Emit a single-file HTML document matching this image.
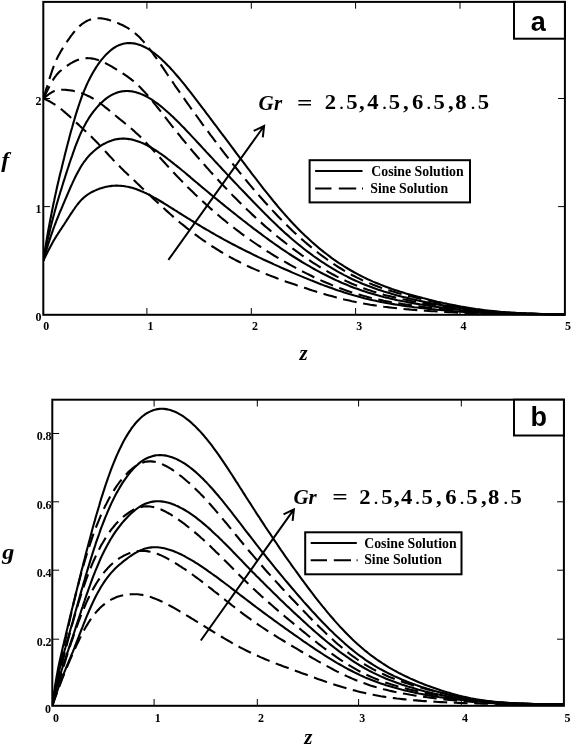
<!DOCTYPE html>
<html lang="en"><head><meta charset="utf-8"><title>Figure: f and g versus z for Gr = 2.5, 4.5, 6.5, 8.5</title>
<style>
html,body{margin:0;padding:0;background:#fff;}
body{width:572px;height:745px;overflow:hidden;}
svg{display:block;}
.fr{fill:none;stroke:#000;stroke-width:2;}
.tk{stroke:#000;stroke-width:1;fill:none;}
.c{fill:none;stroke:#000;stroke-width:2.1;stroke-linejoin:round;}
.d{fill:none;stroke:#000;stroke-width:2.1;stroke-dasharray:13.8 6.6;stroke-linejoin:round;}
.tl{font-family:"Liberation Serif",serif;font-weight:bold;font-size:13px;fill:#000;}
.lg{font-family:"Liberation Serif",serif;font-weight:bold;font-size:13.8px;fill:#000;}
.ax{font-family:"Liberation Serif",serif;font-weight:bold;font-style:italic;font-size:21px;fill:#000;}
.pn{font-family:"Liberation Sans",sans-serif;font-weight:bold;font-size:27px;fill:#000;}
.gr{font-family:"Liberation Serif",serif;font-weight:bold;font-size:21px;fill:#000;}
.gi{font-family:"Liberation Serif",serif;font-weight:bold;font-style:italic;font-size:21px;fill:#000;}
.dt{font-size:15px;}
.ar{fill:none;stroke:#000;stroke-width:2;stroke-linecap:butt;stroke-linejoin:miter;}
</style></head><body>
<svg width="572" height="745" viewBox="0 0 572 745">
<rect x="0" y="0" width="572" height="745" style="fill:#fff"/>
<defs><clipPath id="cp1"><rect x="43.3" y="1.8" width="521.6" height="313.9"/></clipPath><clipPath id="cp2"><rect x="52.3" y="399.6" width="511.6" height="307"/></clipPath></defs>
<g id="plot-a">
<g clip-path="url(#cp1)">
<path class="c" d="M43.3,260.7 L44.0,259.2 L44.7,257.7 L45.5,256.2 L46.2,254.7 L47.0,253.2 L47.7,251.7 L48.5,250.2 L49.3,248.7 L50.1,247.2 L50.9,245.7 L51.7,244.2 L52.5,242.7 L53.3,241.3 L54.2,239.8 L55.0,238.4 L55.9,237.0 L56.7,235.6 L57.6,234.3 L58.5,232.9 L59.4,231.5 L60.3,230.1 L61.3,228.7 L62.2,227.3 L63.1,225.9 L64.1,224.5 L65.0,223.0 L66.0,221.5 L67.0,219.9 L68.0,218.4 L69.0,216.8 L70.0,215.2 L71.0,213.6 L72.1,212.1 L73.1,210.5 L74.2,209.0 L75.2,207.5 L76.3,206.0 L77.4,204.5 L78.5,203.2 L79.6,201.9 L80.7,200.6 L81.8,199.4 L83.0,198.4 L84.1,197.3 L85.3,196.4 L86.4,195.5 L87.6,194.6 L88.8,193.9 L90.0,193.1 L91.2,192.4 L92.4,191.8 L93.6,191.2 L94.9,190.6 L96.1,190.1 L97.4,189.6 L98.6,189.1 L99.9,188.6 L101.2,188.2 L102.5,187.8 L103.8,187.4 L105.1,187.1 L106.4,186.8 L107.8,186.5 L109.1,186.3 L110.5,186.1 L111.9,185.9 L113.2,185.8 L114.6,185.7 L116.0,185.6 L117.4,185.6 L118.8,185.7 L120.3,185.7 L121.7,185.9 L123.2,186.0 L124.6,186.2 L126.1,186.5 L127.6,186.7 L129.1,187.1 L130.6,187.4 L132.1,187.8 L133.6,188.3 L135.1,188.8 L136.6,189.3 L138.2,189.9 L139.8,190.5 L141.3,191.2 L142.9,191.8 L144.5,192.6 L146.1,193.3 L147.7,194.1 L149.3,194.9 L151.0,195.8 L152.6,196.7 L154.2,197.6 L155.9,198.5 L157.6,199.5 L159.3,200.5 L161.0,201.5 L162.7,202.5 L164.4,203.6 L166.1,204.6 L167.8,205.7 L169.6,206.8 L171.3,207.9 L173.1,209.0 L174.8,210.1 L176.6,211.2 L178.4,212.4 L180.2,213.5 L182.0,214.6 L183.9,215.8 L185.7,216.9 L187.5,218.1 L189.4,219.2 L191.2,220.4 L193.1,221.5 L195.0,222.7 L196.9,223.9 L198.8,225.0 L200.7,226.2 L202.6,227.3 L204.6,228.5 L206.5,229.6 L208.5,230.7 L210.4,231.9 L212.4,233.0 L214.4,234.2 L216.4,235.3 L218.4,236.4 L220.4,237.5 L222.4,238.6 L224.5,239.8 L226.5,240.9 L228.6,242.0 L230.6,243.1 L232.7,244.2 L234.8,245.3 L236.9,246.4 L239.0,247.5 L241.1,248.5 L243.2,249.6 L245.4,250.7 L247.5,251.8 L249.7,252.8 L251.8,253.9 L254.0,255.0 L256.2,256.0 L258.4,257.1 L260.6,258.1 L262.8,259.2 L265.0,260.2 L267.3,261.3 L269.5,262.3 L271.8,263.3 L274.0,264.4 L276.3,265.4 L278.6,266.4 L280.9,267.5 L283.2,268.5 L285.5,269.5 L287.9,270.5 L290.2,271.5 L292.5,272.6 L294.9,273.6 L297.3,274.6 L299.7,275.6 L302.0,276.6 L304.4,277.6 L306.9,278.6 L309.3,279.6 L311.7,280.6 L314.1,281.5 L316.6,282.5 L319.0,283.5 L321.5,284.4 L324.0,285.4 L326.5,286.3 L329.0,287.2 L331.5,288.1 L334.0,289.0 L336.5,289.9 L339.1,290.8 L341.6,291.6 L344.2,292.5 L346.8,293.3 L349.3,294.1 L351.9,294.8 L354.5,295.6 L357.2,296.3 L359.8,297.0 L362.4,297.7 L365.0,298.4 L367.7,299.0 L370.4,299.7 L373.0,300.3 L375.7,300.8 L378.4,301.4 L381.1,301.9 L383.8,302.5 L386.5,303.0 L389.3,303.5 L392.0,303.9 L394.8,304.4 L397.5,304.8 L400.3,305.3 L403.1,305.7 L405.9,306.1 L408.7,306.5 L411.5,306.8 L414.3,307.2 L417.2,307.5 L420.0,307.9 L422.8,308.2 L425.7,308.5 L428.6,308.9 L431.5,309.2 L434.4,309.4 L437.3,309.7 L440.2,310.0 L443.1,310.3 L446.0,310.5 L449.0,310.8 L451.9,311.0 L454.9,311.2 L457.9,311.5 L460.9,311.7 L463.9,311.9 L466.9,312.1 L469.9,312.2 L472.9,312.4 L475.9,312.6 L479.0,312.7 L482.0,312.9 L485.1,313.0 L488.2,313.2 L491.3,313.3 L494.4,313.4 L497.5,313.5 L500.6,313.6 L503.7,313.7 L506.9,313.8 L510.0,313.8 L513.2,313.9 L516.3,314.0 L519.5,314.0 L522.7,314.1 L525.9,314.1 L529.1,314.2 L532.3,314.2 L535.5,314.3 L538.8,314.3 L542.0,314.3 L545.3,314.4 L548.6,314.4 L551.8,314.4 L555.1,314.4 L558.4,314.5 L561.7,314.5 L565.0,314.5"/>
<path class="c" d="M43.3,260.7 L44.0,258.2 L44.7,255.7 L45.5,253.1 L46.2,250.6 L47.0,248.1 L47.7,245.7 L48.5,243.2 L49.3,240.8 L50.1,238.4 L50.9,236.0 L51.7,233.7 L52.5,231.3 L53.3,229.0 L54.2,226.7 L55.0,224.5 L55.9,222.2 L56.7,220.0 L57.6,217.8 L58.5,215.6 L59.4,213.4 L60.3,211.2 L61.3,209.0 L62.2,206.8 L63.1,204.6 L64.1,202.3 L65.0,200.1 L66.0,197.8 L67.0,195.5 L68.0,193.2 L69.0,190.8 L70.0,188.5 L71.0,186.2 L72.1,183.9 L73.1,181.6 L74.2,179.4 L75.2,177.2 L76.3,175.0 L77.4,172.9 L78.5,170.9 L79.6,168.9 L80.7,167.0 L81.8,165.2 L83.0,163.5 L84.1,161.8 L85.3,160.3 L86.4,158.8 L87.6,157.4 L88.8,156.0 L90.0,154.8 L91.2,153.6 L92.4,152.4 L93.6,151.3 L94.9,150.2 L96.1,149.2 L97.4,148.2 L98.6,147.3 L99.9,146.4 L101.2,145.5 L102.5,144.7 L103.8,144.0 L105.1,143.3 L106.4,142.6 L107.8,142.0 L109.1,141.4 L110.5,140.9 L111.9,140.4 L113.2,140.0 L114.6,139.6 L116.0,139.3 L117.4,139.1 L118.8,138.9 L120.3,138.7 L121.7,138.6 L123.2,138.6 L124.6,138.6 L126.1,138.7 L127.6,138.9 L129.1,139.1 L130.6,139.3 L132.1,139.6 L133.6,140.0 L135.1,140.4 L136.6,140.9 L138.2,141.4 L139.8,142.0 L141.3,142.6 L142.9,143.3 L144.5,144.0 L146.1,144.8 L147.7,145.7 L149.3,146.5 L151.0,147.5 L152.6,148.4 L154.2,149.5 L155.9,150.5 L157.6,151.6 L159.3,152.8 L161.0,153.9 L162.7,155.2 L164.4,156.4 L166.1,157.7 L167.8,159.0 L169.6,160.3 L171.3,161.7 L173.1,163.1 L174.8,164.5 L176.6,165.9 L178.4,167.3 L180.2,168.8 L182.0,170.3 L183.9,171.8 L185.7,173.3 L187.5,174.9 L189.4,176.4 L191.2,178.0 L193.1,179.6 L195.0,181.2 L196.9,182.8 L198.8,184.4 L200.7,186.0 L202.6,187.6 L204.6,189.2 L206.5,190.8 L208.5,192.5 L210.4,194.1 L212.4,195.7 L214.4,197.4 L216.4,199.0 L218.4,200.6 L220.4,202.3 L222.4,203.9 L224.5,205.6 L226.5,207.2 L228.6,208.9 L230.6,210.5 L232.7,212.2 L234.8,213.8 L236.9,215.5 L239.0,217.2 L241.1,218.8 L243.2,220.5 L245.4,222.1 L247.5,223.8 L249.7,225.5 L251.8,227.1 L254.0,228.8 L256.2,230.4 L258.4,232.1 L260.6,233.7 L262.8,235.4 L265.0,237.0 L267.3,238.7 L269.5,240.3 L271.8,241.9 L274.0,243.5 L276.3,245.1 L278.6,246.7 L280.9,248.3 L283.2,249.9 L285.5,251.4 L287.9,253.0 L290.2,254.5 L292.5,256.0 L294.9,257.5 L297.3,259.0 L299.7,260.5 L302.0,262.0 L304.4,263.4 L306.9,264.8 L309.3,266.2 L311.7,267.6 L314.1,269.0 L316.6,270.4 L319.0,271.7 L321.5,273.0 L324.0,274.3 L326.5,275.5 L329.0,276.8 L331.5,278.0 L334.0,279.2 L336.5,280.4 L339.1,281.5 L341.6,282.7 L344.2,283.8 L346.8,284.8 L349.3,285.9 L351.9,286.9 L354.5,287.9 L357.2,288.8 L359.8,289.8 L362.4,290.7 L365.0,291.6 L367.7,292.4 L370.4,293.2 L373.0,294.0 L375.7,294.8 L378.4,295.5 L381.1,296.3 L383.8,297.0 L386.5,297.6 L389.3,298.3 L392.0,298.9 L394.8,299.6 L397.5,300.2 L400.3,300.7 L403.1,301.3 L405.9,301.8 L408.7,302.4 L411.5,302.9 L414.3,303.4 L417.2,303.9 L420.0,304.4 L422.8,304.8 L425.7,305.3 L428.6,305.8 L431.5,306.2 L434.4,306.6 L437.3,307.0 L440.2,307.4 L443.1,307.8 L446.0,308.2 L449.0,308.6 L451.9,309.0 L454.9,309.3 L457.9,309.6 L460.9,310.0 L463.9,310.3 L466.9,310.6 L469.9,310.9 L472.9,311.1 L475.9,311.4 L479.0,311.6 L482.0,311.9 L485.1,312.1 L488.2,312.3 L491.3,312.5 L494.4,312.7 L497.5,312.8 L500.6,313.0 L503.7,313.1 L506.9,313.3 L510.0,313.4 L513.2,313.5 L516.3,313.6 L519.5,313.7 L522.7,313.8 L525.9,313.9 L529.1,314.0 L532.3,314.0 L535.5,314.1 L538.8,314.2 L542.0,314.2 L545.3,314.3 L548.6,314.3 L551.8,314.4 L555.1,314.4 L558.4,314.5 L561.7,314.5 L565.0,314.6"/>
<path class="c" d="M43.3,260.7 L44.0,257.1 L44.7,253.6 L45.5,250.0 L46.2,246.5 L47.0,243.1 L47.7,239.6 L48.5,236.3 L49.3,232.9 L50.1,229.6 L50.9,226.3 L51.7,223.1 L52.5,219.9 L53.3,216.7 L54.2,213.6 L55.0,210.5 L55.9,207.4 L56.7,204.3 L57.6,201.3 L58.5,198.3 L59.4,195.3 L60.3,192.2 L61.3,189.2 L62.2,186.2 L63.1,183.2 L64.1,180.2 L65.0,177.2 L66.0,174.1 L67.0,171.0 L68.0,168.0 L69.0,164.9 L70.0,161.8 L71.0,158.8 L72.1,155.8 L73.1,152.8 L74.2,149.8 L75.2,146.9 L76.3,144.0 L77.4,141.3 L78.5,138.6 L79.6,135.9 L80.7,133.4 L81.8,131.0 L83.0,128.6 L84.1,126.4 L85.3,124.2 L86.4,122.1 L87.6,120.2 L88.8,118.2 L90.0,116.4 L91.2,114.7 L92.4,113.0 L93.6,111.4 L94.9,109.8 L96.1,108.3 L97.4,106.9 L98.6,105.5 L99.9,104.2 L101.2,102.9 L102.5,101.7 L103.8,100.5 L105.1,99.4 L106.4,98.4 L107.8,97.4 L109.1,96.5 L110.5,95.7 L111.9,94.9 L113.2,94.2 L114.6,93.6 L116.0,93.0 L117.4,92.5 L118.8,92.1 L120.3,91.7 L121.7,91.4 L123.2,91.2 L124.6,91.1 L126.1,91.0 L127.6,91.0 L129.1,91.1 L130.6,91.2 L132.1,91.4 L133.6,91.7 L135.1,92.0 L136.6,92.4 L138.2,92.9 L139.8,93.5 L141.3,94.1 L142.9,94.8 L144.5,95.5 L146.1,96.3 L147.7,97.2 L149.3,98.1 L151.0,99.1 L152.6,100.2 L154.2,101.3 L155.9,102.5 L157.6,103.7 L159.3,105.0 L161.0,106.4 L162.7,107.8 L164.4,109.2 L166.1,110.7 L167.8,112.2 L169.6,113.8 L171.3,115.4 L173.1,117.1 L174.8,118.8 L176.6,120.5 L178.4,122.3 L180.2,124.1 L182.0,126.0 L183.9,127.8 L185.7,129.8 L187.5,131.7 L189.4,133.6 L191.2,135.6 L193.1,137.6 L195.0,139.6 L196.9,141.7 L198.8,143.7 L200.7,145.8 L202.6,147.9 L204.6,150.0 L206.5,152.1 L208.5,154.2 L210.4,156.3 L212.4,158.4 L214.4,160.6 L216.4,162.7 L218.4,164.9 L220.4,167.0 L222.4,169.2 L224.5,171.4 L226.5,173.6 L228.6,175.8 L230.6,178.0 L232.7,180.2 L234.8,182.4 L236.9,184.6 L239.0,186.9 L241.1,189.1 L243.2,191.3 L245.4,193.6 L247.5,195.8 L249.7,198.1 L251.8,200.3 L254.0,202.6 L256.2,204.8 L258.4,207.1 L260.6,209.3 L262.8,211.6 L265.0,213.8 L267.3,216.0 L269.5,218.2 L271.8,220.5 L274.0,222.6 L276.3,224.8 L278.6,227.0 L280.9,229.1 L283.2,231.2 L285.5,233.4 L287.9,235.4 L290.2,237.5 L292.5,239.5 L294.9,241.5 L297.3,243.5 L299.7,245.4 L302.0,247.3 L304.4,249.2 L306.9,251.1 L309.3,252.9 L311.7,254.7 L314.1,256.5 L316.6,258.2 L319.0,259.9 L321.5,261.6 L324.0,263.2 L326.5,264.8 L329.0,266.4 L331.5,267.9 L334.0,269.4 L336.5,270.9 L339.1,272.3 L341.6,273.7 L344.2,275.1 L346.8,276.4 L349.3,277.7 L351.9,279.0 L354.5,280.2 L357.2,281.4 L359.8,282.5 L362.4,283.7 L365.0,284.7 L367.7,285.8 L370.4,286.8 L373.0,287.8 L375.7,288.8 L378.4,289.7 L381.1,290.6 L383.8,291.5 L386.5,292.3 L389.3,293.1 L392.0,293.9 L394.8,294.7 L397.5,295.5 L400.3,296.2 L403.1,296.9 L405.9,297.6 L408.7,298.3 L411.5,299.0 L414.3,299.6 L417.2,300.2 L420.0,300.9 L422.8,301.5 L425.7,302.1 L428.6,302.7 L431.5,303.2 L434.4,303.8 L437.3,304.4 L440.2,304.9 L443.1,305.4 L446.0,305.9 L449.0,306.4 L451.9,306.9 L454.9,307.4 L457.9,307.8 L460.9,308.3 L463.9,308.7 L466.9,309.1 L469.9,309.5 L472.9,309.8 L475.9,310.2 L479.0,310.5 L482.0,310.8 L485.1,311.1 L488.2,311.4 L491.3,311.7 L494.4,311.9 L497.5,312.2 L500.6,312.4 L503.7,312.6 L506.9,312.8 L510.0,312.9 L513.2,313.1 L516.3,313.2 L519.5,313.4 L522.7,313.5 L525.9,313.6 L529.1,313.7 L532.3,313.8 L535.5,313.9 L538.8,314.0 L542.0,314.1 L545.3,314.2 L548.6,314.3 L551.8,314.4 L555.1,314.4 L558.4,314.5 L561.7,314.6 L565.0,314.7"/>
<path class="c" d="M43.3,260.7 L44.0,256.1 L44.7,251.5 L45.5,246.9 L46.2,242.4 L47.0,238.0 L47.7,233.6 L48.5,229.3 L49.3,225.0 L50.1,220.8 L50.9,216.7 L51.7,212.5 L52.5,208.5 L53.3,204.5 L54.2,200.5 L55.0,196.5 L55.9,192.6 L56.7,188.7 L57.6,184.8 L58.5,181.0 L59.4,177.1 L60.3,173.3 L61.3,169.5 L62.2,165.7 L63.1,161.9 L64.1,158.1 L65.0,154.3 L66.0,150.4 L67.0,146.6 L68.0,142.8 L69.0,138.9 L70.0,135.1 L71.0,131.3 L72.1,127.6 L73.1,123.9 L74.2,120.2 L75.2,116.6 L76.3,113.1 L77.4,109.6 L78.5,106.2 L79.6,103.0 L80.7,99.8 L81.8,96.7 L83.0,93.7 L84.1,90.9 L85.3,88.1 L86.4,85.5 L87.6,82.9 L88.8,80.4 L90.0,78.1 L91.2,75.8 L92.4,73.6 L93.6,71.5 L94.9,69.4 L96.1,67.4 L97.4,65.5 L98.6,63.7 L99.9,61.9 L101.2,60.2 L102.5,58.6 L103.8,57.1 L105.1,55.6 L106.4,54.2 L107.8,52.9 L109.1,51.7 L110.5,50.5 L111.9,49.4 L113.2,48.4 L114.6,47.5 L116.0,46.7 L117.4,45.9 L118.8,45.3 L120.3,44.7 L121.7,44.2 L123.2,43.8 L124.6,43.5 L126.1,43.3 L127.6,43.1 L129.1,43.0 L130.6,43.1 L132.1,43.2 L133.6,43.4 L135.1,43.6 L136.6,44.0 L138.2,44.4 L139.8,44.9 L141.3,45.5 L142.9,46.2 L144.5,47.0 L146.1,47.8 L147.7,48.7 L149.3,49.7 L151.0,50.8 L152.6,52.0 L154.2,53.2 L155.9,54.5 L157.6,55.8 L159.3,57.3 L161.0,58.8 L162.7,60.4 L164.4,62.0 L166.1,63.7 L167.8,65.5 L169.6,67.3 L171.3,69.2 L173.1,71.1 L174.8,73.1 L176.6,75.2 L178.4,77.3 L180.2,79.4 L182.0,81.6 L183.9,83.9 L185.7,86.2 L187.5,88.5 L189.4,90.8 L191.2,93.2 L193.1,95.7 L195.0,98.1 L196.9,100.6 L198.8,103.1 L200.7,105.6 L202.6,108.2 L204.6,110.7 L206.5,113.3 L208.5,115.9 L210.4,118.5 L212.4,121.1 L214.4,123.8 L216.4,126.4 L218.4,129.1 L220.4,131.8 L222.4,134.5 L224.5,137.2 L226.5,139.9 L228.6,142.7 L230.6,145.4 L232.7,148.2 L234.8,151.0 L236.9,153.8 L239.0,156.6 L241.1,159.4 L243.2,162.2 L245.4,165.0 L247.5,167.9 L249.7,170.7 L251.8,173.6 L254.0,176.4 L256.2,179.2 L258.4,182.1 L260.6,184.9 L262.8,187.8 L265.0,190.6 L267.3,193.4 L269.5,196.2 L271.8,199.0 L274.0,201.8 L276.3,204.5 L278.6,207.3 L280.9,210.0 L283.2,212.6 L285.5,215.3 L287.9,217.9 L290.2,220.5 L292.5,223.0 L294.9,225.5 L297.3,227.9 L299.7,230.4 L302.0,232.7 L304.4,235.1 L306.9,237.3 L309.3,239.6 L311.7,241.8 L314.1,243.9 L316.6,246.0 L319.0,248.1 L321.5,250.1 L324.0,252.1 L326.5,254.0 L329.0,255.9 L331.5,257.8 L334.0,259.6 L336.5,261.3 L339.1,263.1 L341.6,264.7 L344.2,266.4 L346.8,268.0 L349.3,269.5 L351.9,271.0 L354.5,272.5 L357.2,273.9 L359.8,275.3 L362.4,276.6 L365.0,277.9 L367.7,279.2 L370.4,280.4 L373.0,281.6 L375.7,282.7 L378.4,283.8 L381.1,284.9 L383.8,286.0 L386.5,287.0 L389.3,288.0 L392.0,289.0 L394.8,289.9 L397.5,290.8 L400.3,291.7 L403.1,292.5 L405.9,293.4 L408.7,294.2 L411.5,295.0 L414.3,295.8 L417.2,296.6 L420.0,297.3 L422.8,298.1 L425.7,298.8 L428.6,299.6 L431.5,300.3 L434.4,301.0 L437.3,301.7 L440.2,302.3 L443.1,303.0 L446.0,303.6 L449.0,304.2 L451.9,304.8 L454.9,305.4 L457.9,306.0 L460.9,306.6 L463.9,307.1 L466.9,307.6 L469.9,308.1 L472.9,308.5 L475.9,309.0 L479.0,309.4 L482.0,309.8 L485.1,310.2 L488.2,310.6 L491.3,310.9 L494.4,311.2 L497.5,311.5 L500.6,311.8 L503.7,312.0 L506.9,312.2 L510.0,312.5 L513.2,312.7 L516.3,312.9 L519.5,313.0 L522.7,313.2 L525.9,313.4 L529.1,313.5 L532.3,313.6 L535.5,313.8 L538.8,313.9 L542.0,314.0 L545.3,314.1 L548.6,314.2 L551.8,314.3 L555.1,314.4 L558.4,314.5 L561.7,314.7 L565.0,314.8"/>
<path class="d" d="M43.3,98.5 L44.0,98.8 L44.7,99.1 L45.5,99.4 L46.2,99.7 L47.0,100.1 L47.7,100.5 L48.5,100.8 L49.3,101.2 L50.1,101.7 L50.9,102.1 L51.7,102.6 L52.5,103.1 L53.3,103.6 L54.2,104.1 L55.0,104.7 L55.9,105.2 L56.7,105.9 L57.6,106.5 L58.5,107.2 L59.4,107.8 L60.3,108.5 L61.3,109.3 L62.2,110.0 L63.1,110.8 L64.1,111.6 L65.0,112.4 L66.0,113.3 L67.0,114.1 L68.0,115.0 L69.0,115.9 L70.0,116.8 L71.0,117.7 L72.1,118.7 L73.1,119.6 L74.2,120.6 L75.2,121.6 L76.3,122.6 L77.4,123.6 L78.5,124.6 L79.6,125.7 L80.7,126.7 L81.8,127.8 L83.0,128.8 L84.1,129.9 L85.3,131.0 L86.4,132.1 L87.6,133.2 L88.8,134.3 L90.0,135.4 L91.2,136.6 L92.4,137.8 L93.6,139.0 L94.9,140.2 L96.1,141.5 L97.4,142.8 L98.6,144.1 L99.9,145.5 L101.2,146.8 L102.5,148.2 L103.8,149.7 L105.1,151.1 L106.4,152.5 L107.8,154.0 L109.1,155.5 L110.5,156.9 L111.9,158.4 L113.2,159.9 L114.6,161.3 L116.0,162.8 L117.4,164.3 L118.8,165.7 L120.3,167.1 L121.7,168.6 L123.2,170.0 L124.6,171.4 L126.1,172.8 L127.6,174.2 L129.1,175.6 L130.6,177.0 L132.1,178.5 L133.6,179.9 L135.1,181.3 L136.6,182.8 L138.2,184.2 L139.8,185.7 L141.3,187.2 L142.9,188.7 L144.5,190.2 L146.1,191.7 L147.7,193.2 L149.3,194.8 L151.0,196.3 L152.6,197.9 L154.2,199.4 L155.9,201.0 L157.6,202.5 L159.3,204.1 L161.0,205.7 L162.7,207.2 L164.4,208.8 L166.1,210.4 L167.8,211.9 L169.6,213.5 L171.3,215.0 L173.1,216.6 L174.8,218.1 L176.6,219.6 L178.4,221.1 L180.2,222.7 L182.0,224.2 L183.9,225.6 L185.7,227.1 L187.5,228.6 L189.4,230.0 L191.2,231.5 L193.1,232.9 L195.0,234.3 L196.9,235.7 L198.8,237.1 L200.7,238.5 L202.6,239.9 L204.6,241.2 L206.5,242.6 L208.5,243.9 L210.4,245.2 L212.4,246.5 L214.4,247.7 L216.4,249.0 L218.4,250.2 L220.4,251.5 L222.4,252.7 L224.5,253.9 L226.5,255.1 L228.6,256.2 L230.6,257.4 L232.7,258.5 L234.8,259.6 L236.9,260.7 L239.0,261.8 L241.1,262.9 L243.2,263.9 L245.4,264.9 L247.5,266.0 L249.7,267.0 L251.8,268.0 L254.0,268.9 L256.2,269.9 L258.4,270.8 L260.6,271.8 L262.8,272.7 L265.0,273.6 L267.3,274.5 L269.5,275.4 L271.8,276.3 L274.0,277.1 L276.3,278.0 L278.6,278.9 L280.9,279.7 L283.2,280.5 L285.5,281.4 L287.9,282.2 L290.2,283.0 L292.5,283.8 L294.9,284.6 L297.3,285.4 L299.7,286.2 L302.0,287.0 L304.4,287.8 L306.9,288.6 L309.3,289.4 L311.7,290.2 L314.1,290.9 L316.6,291.7 L319.0,292.5 L321.5,293.2 L324.0,293.9 L326.5,294.7 L329.0,295.4 L331.5,296.1 L334.0,296.8 L336.5,297.4 L339.1,298.1 L341.6,298.7 L344.2,299.4 L346.8,300.0 L349.3,300.6 L351.9,301.2 L354.5,301.7 L357.2,302.3 L359.8,302.8 L362.4,303.3 L365.0,303.8 L367.7,304.2 L370.4,304.7 L373.0,305.1 L375.7,305.5 L378.4,305.9 L381.1,306.3 L383.8,306.7 L386.5,307.0 L389.3,307.4 L392.0,307.7 L394.8,308.0 L397.5,308.3 L400.3,308.6 L403.1,308.9 L405.9,309.2 L408.7,309.4 L411.5,309.7 L414.3,309.9 L417.2,310.1 L420.0,310.3 L422.8,310.6 L425.7,310.8 L428.6,311.0 L431.5,311.2 L434.4,311.3 L437.3,311.5 L440.2,311.7 L443.1,311.9 L446.0,312.0 L449.0,312.2 L451.9,312.3 L454.9,312.5 L457.9,312.6 L460.9,312.7 L463.9,312.8 L466.9,313.0 L469.9,313.1 L472.9,313.2 L475.9,313.3 L479.0,313.4 L482.0,313.5 L485.1,313.5 L488.2,313.6 L491.3,313.7 L494.4,313.7 L497.5,313.8 L500.6,313.9 L503.7,313.9 L506.9,314.0 L510.0,314.0 L513.2,314.1 L516.3,314.1 L519.5,314.1 L522.7,314.2 L525.9,314.2 L529.1,314.2 L532.3,314.3 L535.5,314.3 L538.8,314.3 L542.0,314.3 L545.3,314.3 L548.6,314.4 L551.8,314.4 L555.1,314.4 L558.4,314.4 L561.7,314.4 L565.0,314.4"/>
<path class="d" d="M43.3,98.5 L44.0,98.0 L44.7,97.4 L45.5,96.8 L46.2,96.2 L47.0,95.7 L47.7,95.1 L48.5,94.5 L49.3,93.9 L50.1,93.4 L50.9,92.9 L51.7,92.4 L52.5,91.9 L53.3,91.5 L54.2,91.1 L55.0,90.8 L55.9,90.5 L56.7,90.3 L57.6,90.1 L58.5,90.0 L59.4,89.8 L60.3,89.8 L61.3,89.7 L62.2,89.7 L63.1,89.7 L64.1,89.8 L65.0,89.8 L66.0,89.9 L67.0,90.0 L68.0,90.1 L69.0,90.2 L70.0,90.3 L71.0,90.5 L72.1,90.6 L73.1,90.8 L74.2,91.1 L75.2,91.3 L76.3,91.6 L77.4,91.8 L78.5,92.2 L79.6,92.5 L80.7,92.9 L81.8,93.2 L83.0,93.7 L84.1,94.1 L85.3,94.6 L86.4,95.1 L87.6,95.7 L88.8,96.2 L90.0,96.8 L91.2,97.5 L92.4,98.2 L93.6,98.9 L94.9,99.7 L96.1,100.5 L97.4,101.3 L98.6,102.2 L99.9,103.1 L101.2,104.0 L102.5,105.0 L103.8,106.0 L105.1,107.1 L106.4,108.1 L107.8,109.2 L109.1,110.3 L110.5,111.4 L111.9,112.5 L113.2,113.7 L114.6,114.8 L116.0,116.0 L117.4,117.2 L118.8,118.3 L120.3,119.5 L121.7,120.7 L123.2,121.8 L124.6,123.0 L126.1,124.2 L127.6,125.5 L129.1,126.7 L130.6,128.0 L132.1,129.3 L133.6,130.6 L135.1,132.0 L136.6,133.4 L138.2,134.8 L139.8,136.3 L141.3,137.8 L142.9,139.4 L144.5,141.0 L146.1,142.7 L147.7,144.4 L149.3,146.1 L151.0,147.8 L152.6,149.6 L154.2,151.4 L155.9,153.2 L157.6,155.0 L159.3,156.9 L161.0,158.7 L162.7,160.6 L164.4,162.5 L166.1,164.4 L167.8,166.3 L169.6,168.2 L171.3,170.1 L173.1,172.0 L174.8,173.8 L176.6,175.7 L178.4,177.6 L180.2,179.4 L182.0,181.3 L183.9,183.2 L185.7,185.0 L187.5,186.9 L189.4,188.7 L191.2,190.5 L193.1,192.3 L195.0,194.2 L196.9,196.0 L198.8,197.8 L200.7,199.6 L202.6,201.3 L204.6,203.1 L206.5,204.9 L208.5,206.6 L210.4,208.4 L212.4,210.1 L214.4,211.9 L216.4,213.6 L218.4,215.3 L220.4,217.0 L222.4,218.7 L224.5,220.3 L226.5,222.0 L228.6,223.7 L230.6,225.3 L232.7,226.9 L234.8,228.5 L236.9,230.1 L239.0,231.7 L241.1,233.3 L243.2,234.9 L245.4,236.4 L247.5,238.0 L249.7,239.5 L251.8,241.0 L254.0,242.5 L256.2,244.0 L258.4,245.5 L260.6,246.9 L262.8,248.4 L265.0,249.8 L267.3,251.3 L269.5,252.7 L271.8,254.1 L274.0,255.5 L276.3,256.8 L278.6,258.2 L280.9,259.5 L283.2,260.9 L285.5,262.2 L287.9,263.5 L290.2,264.8 L292.5,266.1 L294.9,267.4 L297.3,268.7 L299.7,269.9 L302.0,271.2 L304.4,272.4 L306.9,273.6 L309.3,274.8 L311.7,276.0 L314.1,277.2 L316.6,278.3 L319.0,279.5 L321.5,280.6 L324.0,281.7 L326.5,282.8 L329.0,283.8 L331.5,284.9 L334.0,285.9 L336.5,286.9 L339.1,287.9 L341.6,288.8 L344.2,289.8 L346.8,290.7 L349.3,291.6 L351.9,292.4 L354.5,293.3 L357.2,294.1 L359.8,294.8 L362.4,295.6 L365.0,296.3 L367.7,297.0 L370.4,297.7 L373.0,298.3 L375.7,298.9 L378.4,299.5 L381.1,300.1 L383.8,300.7 L386.5,301.2 L389.3,301.7 L392.0,302.2 L394.8,302.7 L397.5,303.2 L400.3,303.6 L403.1,304.1 L405.9,304.5 L408.7,304.9 L411.5,305.3 L414.3,305.7 L417.2,306.1 L420.0,306.5 L422.8,306.8 L425.7,307.2 L428.6,307.5 L431.5,307.9 L434.4,308.2 L437.3,308.5 L440.2,308.9 L443.1,309.2 L446.0,309.5 L449.0,309.8 L451.9,310.1 L454.9,310.3 L457.9,310.6 L460.9,310.9 L463.9,311.1 L466.9,311.3 L469.9,311.6 L472.9,311.8 L475.9,312.0 L479.0,312.2 L482.0,312.4 L485.1,312.6 L488.2,312.7 L491.3,312.9 L494.4,313.0 L497.5,313.1 L500.6,313.3 L503.7,313.4 L506.9,313.5 L510.0,313.6 L513.2,313.7 L516.3,313.8 L519.5,313.8 L522.7,313.9 L525.9,314.0 L529.1,314.0 L532.3,314.1 L535.5,314.1 L538.8,314.2 L542.0,314.2 L545.3,314.3 L548.6,314.3 L551.8,314.4 L555.1,314.4 L558.4,314.4 L561.7,314.5 L565.0,314.5"/>
<path class="d" d="M43.3,98.5 L44.0,97.1 L44.7,95.7 L45.5,94.2 L46.2,92.7 L47.0,91.2 L47.7,89.7 L48.5,88.2 L49.3,86.6 L50.1,85.1 L50.9,83.6 L51.7,82.2 L52.5,80.8 L53.3,79.4 L54.2,78.1 L55.0,76.9 L55.9,75.8 L56.7,74.7 L57.6,73.7 L58.5,72.7 L59.4,71.8 L60.3,71.0 L61.3,70.2 L62.2,69.4 L63.1,68.7 L64.1,67.9 L65.0,67.2 L66.0,66.5 L67.0,65.8 L68.0,65.1 L69.0,64.5 L70.0,63.8 L71.0,63.2 L72.1,62.6 L73.1,62.0 L74.2,61.5 L75.2,61.0 L76.3,60.5 L77.4,60.1 L78.5,59.7 L79.6,59.3 L80.7,59.0 L81.8,58.7 L83.0,58.5 L84.1,58.3 L85.3,58.2 L86.4,58.2 L87.6,58.1 L88.8,58.2 L90.0,58.3 L91.2,58.4 L92.4,58.6 L93.6,58.8 L94.9,59.1 L96.1,59.4 L97.4,59.8 L98.6,60.2 L99.9,60.7 L101.2,61.2 L102.5,61.8 L103.8,62.4 L105.1,63.0 L106.4,63.7 L107.8,64.4 L109.1,65.1 L110.5,65.9 L111.9,66.7 L113.2,67.5 L114.6,68.3 L116.0,69.2 L117.4,70.1 L118.8,70.9 L120.3,71.8 L121.7,72.7 L123.2,73.7 L124.6,74.6 L126.1,75.6 L127.6,76.7 L129.1,77.8 L130.6,78.9 L132.1,80.1 L133.6,81.3 L135.1,82.6 L136.6,84.0 L138.2,85.4 L139.8,86.9 L141.3,88.5 L142.9,90.2 L144.5,91.9 L146.1,93.6 L147.7,95.5 L149.3,97.4 L151.0,99.3 L152.6,101.3 L154.2,103.3 L155.9,105.4 L157.6,107.5 L159.3,109.6 L161.0,111.8 L162.7,114.0 L164.4,116.2 L166.1,118.4 L167.8,120.7 L169.6,122.9 L171.3,125.1 L173.1,127.3 L174.8,129.6 L176.6,131.8 L178.4,134.0 L180.2,136.2 L182.0,138.5 L183.9,140.7 L185.7,142.9 L187.5,145.1 L189.4,147.3 L191.2,149.5 L193.1,151.8 L195.0,154.0 L196.9,156.2 L198.8,158.4 L200.7,160.6 L202.6,162.8 L204.6,165.0 L206.5,167.2 L208.5,169.4 L210.4,171.6 L212.4,173.8 L214.4,176.0 L216.4,178.1 L218.4,180.3 L220.4,182.5 L222.4,184.6 L224.5,186.8 L226.5,188.9 L228.6,191.1 L230.6,193.2 L232.7,195.4 L234.8,197.5 L236.9,199.6 L239.0,201.7 L241.1,203.8 L243.2,205.9 L245.4,207.9 L247.5,210.0 L249.7,212.0 L251.8,214.1 L254.0,216.1 L256.2,218.1 L258.4,220.1 L260.6,222.1 L262.8,224.1 L265.0,226.1 L267.3,228.0 L269.5,229.9 L271.8,231.9 L274.0,233.8 L276.3,235.7 L278.6,237.5 L280.9,239.4 L283.2,241.2 L285.5,243.0 L287.9,244.8 L290.2,246.6 L292.5,248.4 L294.9,250.1 L297.3,251.9 L299.7,253.6 L302.0,255.3 L304.4,256.9 L306.9,258.6 L309.3,260.2 L311.7,261.8 L314.1,263.4 L316.6,264.9 L319.0,266.5 L321.5,268.0 L324.0,269.4 L326.5,270.9 L329.0,272.3 L331.5,273.7 L334.0,275.0 L336.5,276.4 L339.1,277.7 L341.6,278.9 L344.2,280.2 L346.8,281.4 L349.3,282.5 L351.9,283.7 L354.5,284.8 L357.2,285.8 L359.8,286.9 L362.4,287.9 L365.0,288.8 L367.7,289.8 L370.4,290.6 L373.0,291.5 L375.7,292.3 L378.4,293.1 L381.1,293.9 L383.8,294.7 L386.5,295.4 L389.3,296.1 L392.0,296.8 L394.8,297.4 L397.5,298.0 L400.3,298.7 L403.1,299.3 L405.9,299.8 L408.7,300.4 L411.5,301.0 L414.3,301.5 L417.2,302.0 L420.0,302.6 L422.8,303.1 L425.7,303.6 L428.6,304.1 L431.5,304.6 L434.4,305.1 L437.3,305.6 L440.2,306.0 L443.1,306.5 L446.0,306.9 L449.0,307.4 L451.9,307.8 L454.9,308.2 L457.9,308.6 L460.9,309.0 L463.9,309.4 L466.9,309.7 L469.9,310.1 L472.9,310.4 L475.9,310.7 L479.0,311.0 L482.0,311.3 L485.1,311.6 L488.2,311.8 L491.3,312.1 L494.4,312.3 L497.5,312.5 L500.6,312.7 L503.7,312.8 L506.9,313.0 L510.0,313.1 L513.2,313.3 L516.3,313.4 L519.5,313.5 L522.7,313.6 L525.9,313.7 L529.1,313.8 L532.3,313.9 L535.5,314.0 L538.8,314.1 L542.0,314.1 L545.3,314.2 L548.6,314.3 L551.8,314.3 L555.1,314.4 L558.4,314.5 L561.7,314.6 L565.0,314.6"/>
<path class="d" d="M43.3,98.5 L44.0,96.3 L44.7,94.0 L45.5,91.6 L46.2,89.2 L47.0,86.8 L47.7,84.3 L48.5,81.8 L49.3,79.3 L50.1,76.9 L50.9,74.4 L51.7,72.0 L52.5,69.6 L53.3,67.3 L54.2,65.1 L55.0,63.0 L55.9,61.0 L56.7,59.1 L57.6,57.3 L58.5,55.5 L59.4,53.9 L60.3,52.2 L61.3,50.6 L62.2,49.1 L63.1,47.6 L64.1,46.1 L65.0,44.6 L66.0,43.1 L67.0,41.7 L68.0,40.2 L69.0,38.8 L70.0,37.3 L71.0,35.9 L72.1,34.6 L73.1,33.2 L74.2,31.9 L75.2,30.7 L76.3,29.4 L77.4,28.3 L78.5,27.2 L79.6,26.1 L80.7,25.1 L81.8,24.2 L83.0,23.4 L84.1,22.6 L85.3,21.9 L86.4,21.2 L87.6,20.6 L88.8,20.1 L90.0,19.7 L91.2,19.3 L92.4,19.0 L93.6,18.7 L94.9,18.5 L96.1,18.4 L97.4,18.3 L98.6,18.3 L99.9,18.3 L101.2,18.4 L102.5,18.5 L103.8,18.7 L105.1,19.0 L106.4,19.3 L107.8,19.6 L109.1,20.0 L110.5,20.4 L111.9,20.8 L113.2,21.3 L114.6,21.8 L116.0,22.4 L117.4,22.9 L118.8,23.5 L120.3,24.2 L121.7,24.8 L123.2,25.5 L124.6,26.3 L126.1,27.1 L127.6,27.9 L129.1,28.8 L130.6,29.8 L132.1,30.9 L133.6,32.0 L135.1,33.3 L136.6,34.6 L138.2,36.0 L139.8,37.5 L141.3,39.2 L142.9,40.9 L144.5,42.7 L146.1,44.6 L147.7,46.6 L149.3,48.7 L151.0,50.8 L152.6,53.0 L154.2,55.3 L155.9,57.6 L157.6,60.0 L159.3,62.4 L161.0,64.9 L162.7,67.4 L164.4,69.9 L166.1,72.5 L167.8,75.0 L169.6,77.6 L171.3,80.1 L173.1,82.7 L174.8,85.3 L176.6,87.9 L178.4,90.4 L180.2,93.0 L182.0,95.6 L183.9,98.2 L185.7,100.8 L187.5,103.4 L189.4,106.0 L191.2,108.6 L193.1,111.2 L195.0,113.8 L196.9,116.4 L198.8,119.0 L200.7,121.6 L202.6,124.3 L204.6,126.9 L206.5,129.5 L208.5,132.2 L210.4,134.8 L212.4,137.4 L214.4,140.1 L216.4,142.7 L218.4,145.3 L220.4,148.0 L222.4,150.6 L224.5,153.3 L226.5,155.9 L228.6,158.5 L230.6,161.2 L232.7,163.8 L234.8,166.4 L236.9,169.0 L239.0,171.6 L241.1,174.2 L243.2,176.8 L245.4,179.4 L247.5,182.0 L249.7,184.6 L251.8,187.1 L254.0,189.7 L256.2,192.2 L258.4,194.8 L260.6,197.3 L262.8,199.8 L265.0,202.3 L267.3,204.8 L269.5,207.2 L271.8,209.7 L274.0,212.1 L276.3,214.5 L278.6,216.9 L280.9,219.2 L283.2,221.6 L285.5,223.9 L287.9,226.2 L290.2,228.4 L292.5,230.7 L294.9,232.9 L297.3,235.1 L299.7,237.3 L302.0,239.4 L304.4,241.5 L306.9,243.6 L309.3,245.6 L311.7,247.6 L314.1,249.6 L316.6,251.5 L319.0,253.5 L321.5,255.3 L324.0,257.2 L326.5,259.0 L329.0,260.8 L331.5,262.5 L334.0,264.2 L336.5,265.8 L339.1,267.5 L341.6,269.0 L344.2,270.6 L346.8,272.1 L349.3,273.5 L351.9,275.0 L354.5,276.3 L357.2,277.6 L359.8,278.9 L362.4,280.2 L365.0,281.4 L367.7,282.5 L370.4,283.6 L373.0,284.7 L375.7,285.7 L378.4,286.7 L381.1,287.7 L383.8,288.6 L386.5,289.6 L389.3,290.4 L392.0,291.3 L394.8,292.1 L397.5,292.9 L400.3,293.7 L403.1,294.4 L405.9,295.2 L408.7,295.9 L411.5,296.6 L414.3,297.3 L417.2,298.0 L420.0,298.7 L422.8,299.4 L425.7,300.0 L428.6,300.7 L431.5,301.3 L434.4,302.0 L437.3,302.6 L440.2,303.2 L443.1,303.8 L446.0,304.4 L449.0,305.0 L451.9,305.6 L454.9,306.1 L457.9,306.6 L460.9,307.2 L463.9,307.7 L466.9,308.1 L469.9,308.6 L472.9,309.0 L475.9,309.5 L479.0,309.9 L482.0,310.2 L485.1,310.6 L488.2,310.9 L491.3,311.2 L494.4,311.5 L497.5,311.8 L500.6,312.0 L503.7,312.3 L506.9,312.5 L510.0,312.7 L513.2,312.9 L516.3,313.1 L519.5,313.2 L522.7,313.4 L525.9,313.5 L529.1,313.6 L532.3,313.7 L535.5,313.8 L538.8,314.0 L542.0,314.1 L545.3,314.1 L548.6,314.2 L551.8,314.3 L555.1,314.4 L558.4,314.5 L561.7,314.6 L565.0,314.7"/>
</g>
<rect class="fr" x="43.3" y="1.9" width="521.6" height="312.9"/>
<path class="tk" d="M146.9,1.9v6.8M146.9,314.8v-6.8M251.3,1.9v6.8M251.3,314.8v-6.8M355.6,1.9v6.8M355.6,314.8v-6.8M460.0,1.9v6.8M460.0,314.8v-6.8M43.3,206.6h6.8M564.9,206.6h-6.8M43.3,98.5h6.8M564.9,98.5h-6.8"/>
<text class="tl" transform="translate(43.2,330.0) scale(0.92,1)">0</text>
<text class="tl" transform="translate(147.5,330.0) scale(0.92,1)">1</text>
<text class="tl" transform="translate(251.9,330.0) scale(0.92,1)">2</text>
<text class="tl" transform="translate(356.2,330.0) scale(0.92,1)">3</text>
<text class="tl" transform="translate(460.6,330.0) scale(0.92,1)">4</text>
<text class="tl" transform="translate(565.0,330.0) scale(0.92,1)">5</text>
<text class="tl" transform="translate(41.6,321.1) scale(0.92,1)" text-anchor="end">0</text>
<text class="tl" transform="translate(41.6,212.9) scale(0.92,1)" text-anchor="end">1</text>
<text class="tl" transform="translate(41.6,104.8) scale(0.92,1)" text-anchor="end">2</text>
<path class="ar" d="M168.4,259.9L264.1,126.0M253.7,130.9L264.1,126.0L262.8,137.4"/>
<rect class="fr" x="514" y="1.9" width="50.9" height="36.8" style="fill:#fff"/>
<text class="pn" x="538.3" y="30.5" text-anchor="middle">a</text>
<rect class="fr" x="309.6" y="160.2" width="160.4" height="42.2" style="fill:#fff"/>
<path d="M315.1,171H362.5" stroke="#000" stroke-width="2" fill="none"/>
<path d="M315.1,188.4H331.5M338.8,188.4H356.2M362.0,188.4h1" stroke="#000" stroke-width="2" fill="none"/>
<text class="lg" x="371.3" y="176.3">Cosine Solution</text>
<text class="lg" x="370.3" y="192.9">Sine Solution</text>
<g><text class="gi" x="258.6 273.9" y="109.5">Gr</text><text class="gr" transform="translate(297.0,109.5) scale(1.3,1)">=</text><text class="gr" transform="scale(1.08,1)" x="300.65 314.35 320.65 332.41 340.00 354.07 359.91 373.15 381.48 395.09 401.48 414.81 421.48 436.20 442.31" y="109.5">2<tspan class="dt">.</tspan>5,4<tspan class="dt">.</tspan>5,6<tspan class="dt">.</tspan>5,8<tspan class="dt">.</tspan>5</text></g>
<text class="ax" transform="translate(1.2,167.3) scale(1.15,1)">f</text>
<text class="ax" x="299.5" y="360">z</text>
</g>
<g id="plot-b">
<g clip-path="url(#cp2)">
<path class="c" d="M52.3,705.7 L53.0,703.6 L53.7,701.4 L54.4,699.3 L55.1,697.1 L55.9,694.9 L56.6,692.8 L57.4,690.6 L58.1,688.5 L58.9,686.3 L59.7,684.2 L60.5,682.0 L61.3,679.9 L62.1,677.8 L62.9,675.7 L63.8,673.6 L64.6,671.5 L65.5,669.4 L66.3,667.3 L67.2,665.2 L68.1,663.1 L69.0,661.0 L69.9,658.8 L70.8,656.6 L71.7,654.4 L72.7,652.1 L73.6,649.8 L74.6,647.4 L75.5,644.9 L76.5,642.4 L77.5,639.9 L78.5,637.3 L79.5,634.7 L80.5,632.1 L81.5,629.5 L82.6,626.8 L83.6,624.1 L84.7,621.5 L85.7,618.8 L86.8,616.2 L87.9,613.6 L89.0,611.0 L90.1,608.5 L91.2,606.0 L92.3,603.6 L93.4,601.2 L94.6,598.8 L95.7,596.5 L96.9,594.3 L98.1,592.1 L99.3,590.0 L100.4,587.9 L101.6,586.0 L102.9,584.0 L104.1,582.2 L105.3,580.4 L106.6,578.7 L107.8,577.0 L109.1,575.4 L110.3,573.9 L111.6,572.4 L112.9,571.0 L114.2,569.6 L115.5,568.3 L116.8,567.1 L118.2,565.8 L119.5,564.6 L120.9,563.5 L122.2,562.4 L123.6,561.2 L125.0,560.2 L126.4,559.1 L127.8,558.0 L129.2,557.0 L130.6,556.0 L132.0,555.1 L133.5,554.1 L134.9,553.2 L136.4,552.4 L137.8,551.6 L139.3,550.9 L140.8,550.2 L142.3,549.6 L143.8,549.0 L145.3,548.6 L146.9,548.2 L148.4,547.8 L150.0,547.6 L151.5,547.4 L153.1,547.3 L154.7,547.2 L156.2,547.2 L157.8,547.3 L159.5,547.5 L161.1,547.7 L162.7,548.0 L164.3,548.3 L166.0,548.7 L167.6,549.2 L169.3,549.7 L171.0,550.2 L172.7,550.8 L174.4,551.5 L176.1,552.2 L177.8,552.9 L179.5,553.7 L181.3,554.5 L183.0,555.4 L184.8,556.3 L186.5,557.3 L188.3,558.3 L190.1,559.3 L191.9,560.3 L193.7,561.4 L195.5,562.6 L197.3,563.7 L199.2,564.9 L201.0,566.1 L202.9,567.4 L204.7,568.6 L206.6,569.9 L208.5,571.3 L210.4,572.6 L212.3,574.0 L214.2,575.3 L216.1,576.7 L218.1,578.2 L220.0,579.6 L222.0,581.1 L223.9,582.5 L225.9,584.0 L227.9,585.5 L229.9,587.0 L231.9,588.6 L233.9,590.1 L235.9,591.7 L238.0,593.2 L240.0,594.8 L242.1,596.4 L244.1,597.9 L246.2,599.5 L248.3,601.1 L250.4,602.7 L252.5,604.3 L254.6,605.9 L256.7,607.5 L258.9,609.1 L261.0,610.7 L263.2,612.3 L265.3,613.9 L267.5,615.5 L269.7,617.1 L271.9,618.7 L274.1,620.3 L276.3,621.9 L278.5,623.5 L280.7,625.1 L283.0,626.7 L285.2,628.3 L287.5,629.9 L289.8,631.6 L292.1,633.2 L294.4,634.8 L296.7,636.4 L299.0,638.0 L301.3,639.6 L303.6,641.3 L306.0,642.9 L308.3,644.5 L310.7,646.1 L313.0,647.7 L315.4,649.3 L317.8,650.9 L320.2,652.4 L322.6,654.0 L325.1,655.6 L327.5,657.1 L329.9,658.6 L332.4,660.1 L334.8,661.6 L337.3,663.1 L339.8,664.5 L342.3,665.9 L344.8,667.3 L347.3,668.7 L349.8,670.0 L352.3,671.3 L354.9,672.6 L357.4,673.8 L360.0,675.1 L362.6,676.2 L365.1,677.4 L367.7,678.4 L370.3,679.5 L372.9,680.5 L375.6,681.5 L378.2,682.5 L380.8,683.4 L383.5,684.3 L386.1,685.2 L388.8,686.0 L391.5,686.8 L394.2,687.6 L396.9,688.3 L399.6,689.1 L402.3,689.8 L405.0,690.4 L407.8,691.1 L410.5,691.7 L413.3,692.3 L416.0,692.9 L418.8,693.5 L421.6,694.0 L424.4,694.6 L427.2,695.1 L430.0,695.6 L432.8,696.1 L435.7,696.5 L438.5,697.0 L441.4,697.4 L444.3,697.8 L447.1,698.2 L450.0,698.6 L452.9,699.0 L455.8,699.3 L458.7,699.7 L461.7,700.0 L464.6,700.3 L467.5,700.6 L470.5,700.9 L473.5,701.2 L476.4,701.4 L479.4,701.7 L482.4,701.9 L485.4,702.1 L488.4,702.3 L491.5,702.5 L494.5,702.7 L497.6,702.9 L500.6,703.1 L503.7,703.2 L506.8,703.3 L509.8,703.5 L512.9,703.6 L516.0,703.7 L519.2,703.8 L522.3,703.9 L525.4,704.0 L528.6,704.1 L531.7,704.1 L534.9,704.2 L538.0,704.3 L541.2,704.3 L544.4,704.4 L547.6,704.4 L550.8,704.4 L554.1,704.5 L557.3,704.5 L560.5,704.5 L563.8,704.6"/>
<path class="c" d="M52.3,705.7 L53.0,702.5 L53.7,699.3 L54.4,696.2 L55.1,693.2 L55.9,690.2 L56.6,687.4 L57.4,684.6 L58.1,681.8 L58.9,679.1 L59.7,676.5 L60.5,673.8 L61.3,671.2 L62.1,668.7 L62.9,666.1 L63.8,663.5 L64.6,660.9 L65.5,658.3 L66.3,655.7 L67.2,653.1 L68.1,650.5 L69.0,647.8 L69.9,645.2 L70.8,642.4 L71.7,639.7 L72.7,636.9 L73.6,634.0 L74.6,631.2 L75.5,628.2 L76.5,625.2 L77.5,622.2 L78.5,619.2 L79.5,616.1 L80.5,613.0 L81.5,609.9 L82.6,606.8 L83.6,603.6 L84.7,600.5 L85.7,597.4 L86.8,594.2 L87.9,591.1 L89.0,588.0 L90.1,585.0 L91.2,581.9 L92.3,578.9 L93.4,575.9 L94.6,573.0 L95.7,570.1 L96.9,567.3 L98.1,564.5 L99.3,561.7 L100.4,559.0 L101.6,556.4 L102.9,553.8 L104.1,551.3 L105.3,548.9 L106.6,546.5 L107.8,544.2 L109.1,542.0 L110.3,539.8 L111.6,537.7 L112.9,535.6 L114.2,533.6 L115.5,531.7 L116.8,529.8 L118.2,528.0 L119.5,526.3 L120.9,524.5 L122.2,522.9 L123.6,521.3 L125.0,519.7 L126.4,518.2 L127.8,516.7 L129.2,515.3 L130.6,513.9 L132.0,512.6 L133.5,511.4 L134.9,510.2 L136.4,509.0 L137.8,508.0 L139.3,507.0 L140.8,506.1 L142.3,505.2 L143.8,504.5 L145.3,503.8 L146.9,503.2 L148.4,502.7 L150.0,502.2 L151.5,501.9 L153.1,501.6 L154.7,501.4 L156.2,501.3 L157.8,501.3 L159.5,501.3 L161.1,501.4 L162.7,501.6 L164.3,501.8 L166.0,502.2 L167.6,502.6 L169.3,503.0 L171.0,503.6 L172.7,504.2 L174.4,504.8 L176.1,505.6 L177.8,506.3 L179.5,507.2 L181.3,508.1 L183.0,509.0 L184.8,510.0 L186.5,511.1 L188.3,512.2 L190.1,513.4 L191.9,514.6 L193.7,515.9 L195.5,517.2 L197.3,518.6 L199.2,520.1 L201.0,521.5 L202.9,523.1 L204.7,524.6 L206.6,526.3 L208.5,527.9 L210.4,529.6 L212.3,531.4 L214.2,533.2 L216.1,535.0 L218.1,536.8 L220.0,538.7 L222.0,540.6 L223.9,542.6 L225.9,544.6 L227.9,546.6 L229.9,548.6 L231.9,550.6 L233.9,552.7 L235.9,554.8 L238.0,556.9 L240.0,559.0 L242.1,561.1 L244.1,563.3 L246.2,565.4 L248.3,567.6 L250.4,569.7 L252.5,571.9 L254.6,574.0 L256.7,576.2 L258.9,578.3 L261.0,580.5 L263.2,582.6 L265.3,584.8 L267.5,587.0 L269.7,589.1 L271.9,591.3 L274.1,593.4 L276.3,595.6 L278.5,597.8 L280.7,599.9 L283.0,602.1 L285.2,604.2 L287.5,606.4 L289.8,608.5 L292.1,610.7 L294.4,612.9 L296.7,615.0 L299.0,617.1 L301.3,619.3 L303.6,621.4 L306.0,623.5 L308.3,625.7 L310.7,627.8 L313.0,629.9 L315.4,632.0 L317.8,634.0 L320.2,636.1 L322.6,638.1 L325.1,640.2 L327.5,642.2 L329.9,644.1 L332.4,646.1 L334.8,648.0 L337.3,649.9 L339.8,651.8 L342.3,653.6 L344.8,655.4 L347.3,657.2 L349.8,658.9 L352.3,660.6 L354.9,662.3 L357.4,663.9 L360.0,665.5 L362.6,667.0 L365.1,668.5 L367.7,669.9 L370.3,671.3 L372.9,672.6 L375.6,673.9 L378.2,675.1 L380.8,676.4 L383.5,677.5 L386.1,678.7 L388.8,679.8 L391.5,680.8 L394.2,681.8 L396.9,682.8 L399.6,683.8 L402.3,684.7 L405.0,685.6 L407.8,686.5 L410.5,687.3 L413.3,688.1 L416.0,688.9 L418.8,689.7 L421.6,690.4 L424.4,691.2 L427.2,691.9 L430.0,692.6 L432.8,693.2 L435.7,693.9 L438.5,694.5 L441.4,695.1 L444.3,695.7 L447.1,696.2 L450.0,696.8 L452.9,697.3 L455.8,697.8 L458.7,698.3 L461.7,698.7 L464.6,699.2 L467.5,699.6 L470.5,700.0 L473.5,700.4 L476.4,700.7 L479.4,701.1 L482.4,701.4 L485.4,701.7 L488.4,701.9 L491.5,702.2 L494.5,702.4 L497.6,702.6 L500.6,702.8 L503.7,703.0 L506.8,703.2 L509.8,703.3 L512.9,703.5 L516.0,703.6 L519.2,703.7 L522.3,703.8 L525.4,703.9 L528.6,704.0 L531.7,704.1 L534.9,704.1 L538.0,704.2 L541.2,704.2 L544.4,704.3 L547.6,704.3 L550.8,704.4 L554.1,704.4 L557.3,704.5 L560.5,704.5 L563.8,704.6"/>
<path class="c" d="M52.3,705.7 L53.0,701.3 L53.7,697.2 L54.4,693.1 L55.1,689.3 L55.9,685.6 L56.6,682.0 L57.4,678.5 L58.1,675.2 L58.9,671.9 L59.7,668.7 L60.5,665.6 L61.3,662.6 L62.1,659.5 L62.9,656.5 L63.8,653.4 L64.6,650.3 L65.5,647.2 L66.3,644.1 L67.2,641.0 L68.1,637.9 L69.0,634.7 L69.9,631.5 L70.8,628.2 L71.7,625.0 L72.7,621.7 L73.6,618.3 L74.6,614.9 L75.5,611.5 L76.5,608.1 L77.5,604.6 L78.5,601.0 L79.5,597.5 L80.5,593.9 L81.5,590.4 L82.6,586.8 L83.6,583.1 L84.7,579.5 L85.7,575.9 L86.8,572.3 L87.9,568.6 L89.0,565.0 L90.1,561.4 L91.2,557.8 L92.3,554.3 L93.4,550.7 L94.6,547.2 L95.7,543.7 L96.9,540.2 L98.1,536.8 L99.3,533.5 L100.4,530.1 L101.6,526.8 L102.9,523.6 L104.1,520.5 L105.3,517.4 L106.6,514.4 L107.8,511.4 L109.1,508.5 L110.3,505.7 L111.6,502.9 L112.9,500.2 L114.2,497.6 L115.5,495.1 L116.8,492.6 L118.2,490.2 L119.5,487.9 L120.9,485.6 L122.2,483.4 L123.6,481.3 L125.0,479.3 L126.4,477.3 L127.8,475.4 L129.2,473.6 L130.6,471.8 L132.0,470.2 L133.5,468.6 L134.9,467.1 L136.4,465.7 L137.8,464.4 L139.3,463.1 L140.8,461.9 L142.3,460.9 L143.8,459.9 L145.3,459.0 L146.9,458.2 L148.4,457.5 L150.0,456.9 L151.5,456.4 L153.1,455.9 L154.7,455.6 L156.2,455.3 L157.8,455.2 L159.5,455.1 L161.1,455.1 L162.7,455.2 L164.3,455.4 L166.0,455.6 L167.6,456.0 L169.3,456.4 L171.0,456.9 L172.7,457.5 L174.4,458.2 L176.1,458.9 L177.8,459.7 L179.5,460.6 L181.3,461.6 L183.0,462.6 L184.8,463.7 L186.5,464.9 L188.3,466.2 L190.1,467.5 L191.9,468.9 L193.7,470.4 L195.5,471.9 L197.3,473.5 L199.2,475.2 L201.0,477.0 L202.9,478.8 L204.7,480.7 L206.6,482.6 L208.5,484.6 L210.4,486.7 L212.3,488.8 L214.2,491.0 L216.1,493.2 L218.1,495.5 L220.0,497.8 L222.0,500.2 L223.9,502.6 L225.9,505.1 L227.9,507.6 L229.9,510.1 L231.9,512.7 L233.9,515.3 L235.9,517.9 L238.0,520.6 L240.0,523.2 L242.1,525.9 L244.1,528.6 L246.2,531.3 L248.3,534.0 L250.4,536.7 L252.5,539.4 L254.6,542.1 L256.7,544.9 L258.9,547.6 L261.0,550.3 L263.2,553.0 L265.3,555.7 L267.5,558.5 L269.7,561.2 L271.9,563.9 L274.1,566.6 L276.3,569.3 L278.5,572.0 L280.7,574.7 L283.0,577.4 L285.2,580.1 L287.5,582.8 L289.8,585.5 L292.1,588.2 L294.4,590.9 L296.7,593.6 L299.0,596.3 L301.3,598.9 L303.6,601.6 L306.0,604.2 L308.3,606.8 L310.7,609.5 L313.0,612.1 L315.4,614.6 L317.8,617.2 L320.2,619.7 L322.6,622.3 L325.1,624.8 L327.5,627.2 L329.9,629.7 L332.4,632.1 L334.8,634.4 L337.3,636.8 L339.8,639.1 L342.3,641.3 L344.8,643.6 L347.3,645.7 L349.8,647.9 L352.3,649.9 L354.9,652.0 L357.4,654.0 L360.0,655.9 L362.6,657.7 L365.1,659.6 L367.7,661.3 L370.3,663.0 L372.9,664.7 L375.6,666.3 L378.2,667.8 L380.8,669.3 L383.5,670.7 L386.1,672.1 L388.8,673.5 L391.5,674.8 L394.2,676.1 L396.9,677.3 L399.6,678.5 L402.3,679.7 L405.0,680.8 L407.8,681.9 L410.5,682.9 L413.3,684.0 L416.0,685.0 L418.8,685.9 L421.6,686.9 L424.4,687.8 L427.2,688.7 L430.0,689.6 L432.8,690.4 L435.7,691.2 L438.5,692.0 L441.4,692.8 L444.3,693.5 L447.1,694.3 L450.0,695.0 L452.9,695.6 L455.8,696.3 L458.7,696.9 L461.7,697.5 L464.6,698.0 L467.5,698.6 L470.5,699.1 L473.5,699.5 L476.4,700.0 L479.4,700.4 L482.4,700.8 L485.4,701.2 L488.4,701.5 L491.5,701.8 L494.5,702.1 L497.6,702.4 L500.6,702.6 L503.7,702.8 L506.8,703.0 L509.8,703.2 L512.9,703.3 L516.0,703.5 L519.2,703.6 L522.3,703.7 L525.4,703.8 L528.6,703.9 L531.7,704.0 L534.9,704.0 L538.0,704.1 L541.2,704.2 L544.4,704.2 L547.6,704.3 L550.8,704.3 L554.1,704.4 L557.3,704.4 L560.5,704.5 L563.8,704.6"/>
<path class="c" d="M52.3,705.7 L53.0,700.2 L53.7,695.0 L54.4,690.1 L55.1,685.4 L55.9,680.9 L56.6,676.6 L57.4,672.5 L58.1,668.5 L58.9,664.7 L59.7,661.0 L60.5,657.4 L61.3,653.9 L62.1,650.4 L62.9,646.8 L63.8,643.3 L64.6,639.7 L65.5,636.2 L66.3,632.5 L67.2,628.9 L68.1,625.2 L69.0,621.5 L69.9,617.8 L70.8,614.0 L71.7,610.3 L72.7,606.4 L73.6,602.6 L74.6,598.7 L75.5,594.8 L76.5,590.9 L77.5,586.9 L78.5,582.9 L79.5,578.9 L80.5,574.9 L81.5,570.8 L82.6,566.7 L83.6,562.6 L84.7,558.5 L85.7,554.4 L86.8,550.3 L87.9,546.2 L89.0,542.0 L90.1,537.9 L91.2,533.7 L92.3,529.6 L93.4,525.5 L94.6,521.4 L95.7,517.3 L96.9,513.2 L98.1,509.2 L99.3,505.2 L100.4,501.2 L101.6,497.3 L102.9,493.4 L104.1,489.6 L105.3,485.9 L106.6,482.2 L107.8,478.6 L109.1,475.0 L110.3,471.6 L111.6,468.2 L112.9,464.9 L114.2,461.6 L115.5,458.5 L116.8,455.4 L118.2,452.4 L119.5,449.5 L120.9,446.7 L122.2,444.0 L123.6,441.3 L125.0,438.8 L126.4,436.4 L127.8,434.1 L129.2,431.9 L130.6,429.8 L132.0,427.7 L133.5,425.8 L134.9,424.0 L136.4,422.3 L137.8,420.7 L139.3,419.2 L140.8,417.8 L142.3,416.5 L143.8,415.3 L145.3,414.2 L146.9,413.2 L148.4,412.4 L150.0,411.6 L151.5,410.9 L153.1,410.3 L154.7,409.8 L156.2,409.4 L157.8,409.1 L159.5,408.9 L161.1,408.8 L162.7,408.8 L164.3,408.9 L166.0,409.1 L167.6,409.4 L169.3,409.8 L171.0,410.3 L172.7,410.9 L174.4,411.5 L176.1,412.3 L177.8,413.1 L179.5,414.1 L181.3,415.1 L183.0,416.2 L184.8,417.5 L186.5,418.8 L188.3,420.2 L190.1,421.6 L191.9,423.2 L193.7,424.9 L195.5,426.6 L197.3,428.5 L199.2,430.4 L201.0,432.4 L202.9,434.5 L204.7,436.7 L206.6,438.9 L208.5,441.3 L210.4,443.7 L212.3,446.2 L214.2,448.8 L216.1,451.4 L218.1,454.1 L220.0,456.9 L222.0,459.8 L223.9,462.7 L225.9,465.6 L227.9,468.6 L229.9,471.7 L231.9,474.8 L233.9,477.9 L235.9,481.1 L238.0,484.2 L240.0,487.5 L242.1,490.7 L244.1,493.9 L246.2,497.2 L248.3,500.5 L250.4,503.7 L252.5,507.0 L254.6,510.3 L256.7,513.6 L258.9,516.8 L261.0,520.1 L263.2,523.4 L265.3,526.7 L267.5,530.0 L269.7,533.2 L271.9,536.5 L274.1,539.8 L276.3,543.0 L278.5,546.3 L280.7,549.6 L283.0,552.8 L285.2,556.1 L287.5,559.3 L289.8,562.5 L292.1,565.8 L294.4,569.0 L296.7,572.2 L299.0,575.4 L301.3,578.6 L303.6,581.7 L306.0,584.9 L308.3,588.0 L310.7,591.1 L313.0,594.2 L315.4,597.3 L317.8,600.4 L320.2,603.4 L322.6,606.4 L325.1,609.3 L327.5,612.3 L329.9,615.2 L332.4,618.0 L334.8,620.9 L337.3,623.6 L339.8,626.4 L342.3,629.0 L344.8,631.7 L347.3,634.3 L349.8,636.8 L352.3,639.3 L354.9,641.7 L357.4,644.0 L360.0,646.3 L362.6,648.5 L365.1,650.7 L367.7,652.7 L370.3,654.8 L372.9,656.7 L375.6,658.6 L378.2,660.5 L380.8,662.2 L383.5,664.0 L386.1,665.6 L388.8,667.3 L391.5,668.8 L394.2,670.4 L396.9,671.8 L399.6,673.3 L402.3,674.6 L405.0,676.0 L407.8,677.3 L410.5,678.6 L413.3,679.8 L416.0,681.0 L418.8,682.2 L421.6,683.3 L424.4,684.4 L427.2,685.5 L430.0,686.5 L432.8,687.6 L435.7,688.6 L438.5,689.5 L441.4,690.5 L444.3,691.4 L447.1,692.3 L450.0,693.1 L452.9,693.9 L455.8,694.7 L458.7,695.5 L461.7,696.2 L464.6,696.9 L467.5,697.5 L470.5,698.2 L473.5,698.7 L476.4,699.3 L479.4,699.8 L482.4,700.3 L485.4,700.7 L488.4,701.1 L491.5,701.5 L494.5,701.8 L497.6,702.1 L500.6,702.4 L503.7,702.6 L506.8,702.8 L509.8,703.0 L512.9,703.2 L516.0,703.3 L519.2,703.5 L522.3,703.6 L525.4,703.7 L528.6,703.8 L531.7,703.9 L534.9,704.0 L538.0,704.0 L541.2,704.1 L544.4,704.1 L547.6,704.2 L550.8,704.3 L554.1,704.3 L557.3,704.4 L560.5,704.5 L563.8,704.6"/>
<path class="d" d="M52.3,705.7 L53.0,703.8 L53.7,701.9 L54.4,699.9 L55.1,697.9 L55.9,695.9 L56.6,693.9 L57.4,691.8 L58.1,689.7 L58.9,687.7 L59.7,685.6 L60.5,683.5 L61.3,681.3 L62.1,679.2 L62.9,677.1 L63.8,675.0 L64.6,672.9 L65.5,670.8 L66.3,668.6 L67.2,666.5 L68.1,664.4 L69.0,662.3 L69.9,660.2 L70.8,658.1 L71.7,656.0 L72.7,653.8 L73.6,651.7 L74.6,649.6 L75.5,647.5 L76.5,645.4 L77.5,643.3 L78.5,641.2 L79.5,639.1 L80.5,637.1 L81.5,635.0 L82.6,633.0 L83.6,631.1 L84.7,629.1 L85.7,627.2 L86.8,625.4 L87.9,623.6 L89.0,621.8 L90.1,620.2 L91.2,618.5 L92.3,617.0 L93.4,615.5 L94.6,614.0 L95.7,612.6 L96.9,611.3 L98.1,610.0 L99.3,608.7 L100.4,607.6 L101.6,606.5 L102.9,605.4 L104.1,604.4 L105.3,603.4 L106.6,602.5 L107.8,601.7 L109.1,600.9 L110.3,600.1 L111.6,599.4 L112.9,598.8 L114.2,598.2 L115.5,597.6 L116.8,597.1 L118.2,596.6 L119.5,596.2 L120.9,595.8 L122.2,595.5 L123.6,595.2 L125.0,594.9 L126.4,594.7 L127.8,594.5 L129.2,594.4 L130.6,594.3 L132.0,594.2 L133.5,594.2 L134.9,594.2 L136.4,594.2 L137.8,594.3 L139.3,594.5 L140.8,594.7 L142.3,594.9 L143.8,595.2 L145.3,595.5 L146.9,595.9 L148.4,596.3 L150.0,596.8 L151.5,597.3 L153.1,597.9 L154.7,598.5 L156.2,599.1 L157.8,599.8 L159.5,600.5 L161.1,601.2 L162.7,602.0 L164.3,602.8 L166.0,603.6 L167.6,604.5 L169.3,605.4 L171.0,606.3 L172.7,607.2 L174.4,608.2 L176.1,609.2 L177.8,610.2 L179.5,611.2 L181.3,612.2 L183.0,613.2 L184.8,614.3 L186.5,615.3 L188.3,616.4 L190.1,617.5 L191.9,618.6 L193.7,619.7 L195.5,620.8 L197.3,621.9 L199.2,623.0 L201.0,624.2 L202.9,625.3 L204.7,626.5 L206.6,627.6 L208.5,628.8 L210.4,630.0 L212.3,631.1 L214.2,632.3 L216.1,633.5 L218.1,634.7 L220.0,635.8 L222.0,637.0 L223.9,638.2 L225.9,639.3 L227.9,640.5 L229.9,641.6 L231.9,642.8 L233.9,643.9 L235.9,645.1 L238.0,646.2 L240.0,647.3 L242.1,648.4 L244.1,649.4 L246.2,650.5 L248.3,651.5 L250.4,652.5 L252.5,653.5 L254.6,654.5 L256.7,655.5 L258.9,656.4 L261.0,657.4 L263.2,658.3 L265.3,659.2 L267.5,660.1 L269.7,661.0 L271.9,661.9 L274.1,662.7 L276.3,663.6 L278.5,664.5 L280.7,665.3 L283.0,666.2 L285.2,667.0 L287.5,667.8 L289.8,668.7 L292.1,669.5 L294.4,670.4 L296.7,671.2 L299.0,672.0 L301.3,672.9 L303.6,673.7 L306.0,674.6 L308.3,675.5 L310.7,676.3 L313.0,677.2 L315.4,678.0 L317.8,678.9 L320.2,679.7 L322.6,680.6 L325.1,681.4 L327.5,682.3 L329.9,683.1 L332.4,683.9 L334.8,684.7 L337.3,685.5 L339.8,686.3 L342.3,687.1 L344.8,687.8 L347.3,688.5 L349.8,689.3 L352.3,690.0 L354.9,690.6 L357.4,691.3 L360.0,691.9 L362.6,692.5 L365.1,693.1 L367.7,693.7 L370.3,694.2 L372.9,694.7 L375.6,695.2 L378.2,695.7 L380.8,696.2 L383.5,696.6 L386.1,697.0 L388.8,697.4 L391.5,697.8 L394.2,698.1 L396.9,698.5 L399.6,698.8 L402.3,699.1 L405.0,699.4 L407.8,699.7 L410.5,699.9 L413.3,700.2 L416.0,700.4 L418.8,700.6 L421.6,700.9 L424.4,701.1 L427.2,701.3 L430.0,701.5 L432.8,701.6 L435.7,701.8 L438.5,702.0 L441.4,702.1 L444.3,702.3 L447.1,702.4 L450.0,702.5 L452.9,702.7 L455.8,702.8 L458.7,702.9 L461.7,703.0 L464.6,703.1 L467.5,703.2 L470.5,703.3 L473.5,703.3 L476.4,703.4 L479.4,703.5 L482.4,703.6 L485.4,703.6 L488.4,703.7 L491.5,703.8 L494.5,703.8 L497.6,703.9 L500.6,703.9 L503.7,704.0 L506.8,704.0 L509.8,704.0 L512.9,704.1 L516.0,704.1 L519.2,704.1 L522.3,704.2 L525.4,704.2 L528.6,704.2 L531.7,704.2 L534.9,704.3 L538.0,704.3 L541.2,704.3 L544.4,704.3 L547.6,704.3 L550.8,704.4 L554.1,704.4 L557.3,704.4 L560.5,704.4 L563.8,704.4"/>
<path class="d" d="M52.3,705.7 L53.0,703.2 L53.7,700.7 L54.4,698.2 L55.1,695.6 L55.9,693.0 L56.6,690.4 L57.4,687.8 L58.1,685.1 L58.9,682.4 L59.7,679.7 L60.5,677.0 L61.3,674.2 L62.1,671.5 L62.9,668.7 L63.8,665.9 L64.6,663.2 L65.5,660.4 L66.3,657.7 L67.2,654.9 L68.1,652.1 L69.0,649.4 L69.9,646.6 L70.8,643.8 L71.7,641.1 L72.7,638.3 L73.6,635.6 L74.6,632.8 L75.5,630.1 L76.5,627.4 L77.5,624.7 L78.5,622.0 L79.5,619.4 L80.5,616.7 L81.5,614.1 L82.6,611.5 L83.6,609.0 L84.7,606.5 L85.7,604.0 L86.8,601.6 L87.9,599.3 L89.0,597.0 L90.1,594.7 L91.2,592.6 L92.3,590.4 L93.4,588.4 L94.6,586.4 L95.7,584.4 L96.9,582.5 L98.1,580.7 L99.3,578.9 L100.4,577.2 L101.6,575.5 L102.9,573.9 L104.1,572.4 L105.3,570.9 L106.6,569.5 L107.8,568.1 L109.1,566.8 L110.3,565.5 L111.6,564.3 L112.9,563.2 L114.2,562.1 L115.5,561.0 L116.8,560.0 L118.2,559.1 L119.5,558.2 L120.9,557.4 L122.2,556.6 L123.6,555.8 L125.0,555.1 L126.4,554.5 L127.8,553.9 L129.2,553.3 L130.6,552.8 L132.0,552.4 L133.5,552.0 L134.9,551.7 L136.4,551.4 L137.8,551.1 L139.3,551.0 L140.8,550.9 L142.3,550.8 L143.8,550.9 L145.3,551.0 L146.9,551.1 L148.4,551.4 L150.0,551.7 L151.5,552.0 L153.1,552.4 L154.7,552.9 L156.2,553.4 L157.8,554.0 L159.5,554.7 L161.1,555.4 L162.7,556.1 L164.3,556.9 L166.0,557.8 L167.6,558.6 L169.3,559.6 L171.0,560.5 L172.7,561.5 L174.4,562.5 L176.1,563.6 L177.8,564.7 L179.5,565.8 L181.3,566.9 L183.0,568.1 L184.8,569.2 L186.5,570.4 L188.3,571.7 L190.1,572.9 L191.9,574.2 L193.7,575.5 L195.5,576.8 L197.3,578.2 L199.2,579.5 L201.0,580.9 L202.9,582.3 L204.7,583.8 L206.6,585.2 L208.5,586.7 L210.4,588.2 L212.3,589.6 L214.2,591.2 L216.1,592.7 L218.1,594.2 L220.0,595.8 L222.0,597.3 L223.9,598.9 L225.9,600.5 L227.9,602.0 L229.9,603.6 L231.9,605.2 L233.9,606.8 L235.9,608.4 L238.0,609.9 L240.0,611.5 L242.1,613.1 L244.1,614.6 L246.2,616.1 L248.3,617.7 L250.4,619.2 L252.5,620.7 L254.6,622.1 L256.7,623.6 L258.9,625.1 L261.0,626.5 L263.2,628.0 L265.3,629.4 L267.5,630.8 L269.7,632.2 L271.9,633.6 L274.1,635.0 L276.3,636.4 L278.5,637.8 L280.7,639.1 L283.0,640.5 L285.2,641.9 L287.5,643.2 L289.8,644.6 L292.1,646.0 L294.4,647.3 L296.7,648.7 L299.0,650.1 L301.3,651.5 L303.6,652.8 L306.0,654.2 L308.3,655.6 L310.7,657.0 L313.0,658.3 L315.4,659.7 L317.8,661.1 L320.2,662.4 L322.6,663.8 L325.1,665.1 L327.5,666.4 L329.9,667.7 L332.4,669.0 L334.8,670.3 L337.3,671.6 L339.8,672.8 L342.3,674.0 L344.8,675.2 L347.3,676.4 L349.8,677.5 L352.3,678.6 L354.9,679.7 L357.4,680.7 L360.0,681.7 L362.6,682.7 L365.1,683.6 L367.7,684.5 L370.3,685.4 L372.9,686.2 L375.6,687.0 L378.2,687.7 L380.8,688.5 L383.5,689.2 L386.1,689.8 L388.8,690.5 L391.5,691.1 L394.2,691.7 L396.9,692.3 L399.6,692.8 L402.3,693.3 L405.0,693.8 L407.8,694.3 L410.5,694.8 L413.3,695.2 L416.0,695.7 L418.8,696.1 L421.6,696.5 L424.4,696.9 L427.2,697.3 L430.0,697.7 L432.8,698.0 L435.7,698.4 L438.5,698.7 L441.4,699.1 L444.3,699.4 L447.1,699.7 L450.0,700.0 L452.9,700.3 L455.8,700.6 L458.7,700.8 L461.7,701.1 L464.6,701.3 L467.5,701.5 L470.5,701.8 L473.5,702.0 L476.4,702.2 L479.4,702.4 L482.4,702.5 L485.4,702.7 L488.4,702.9 L491.5,703.0 L494.5,703.1 L497.6,703.3 L500.6,703.4 L503.7,703.5 L506.8,703.6 L509.8,703.7 L512.9,703.8 L516.0,703.8 L519.2,703.9 L522.3,704.0 L525.4,704.0 L528.6,704.1 L531.7,704.1 L534.9,704.2 L538.0,704.2 L541.2,704.3 L544.4,704.3 L547.6,704.3 L550.8,704.4 L554.1,704.4 L557.3,704.4 L560.5,704.5 L563.8,704.5"/>
<path class="d" d="M52.3,705.7 L53.0,702.7 L53.7,699.6 L54.4,696.5 L55.1,693.4 L55.9,690.2 L56.6,687.0 L57.4,683.7 L58.1,680.4 L58.9,677.1 L59.7,673.8 L60.5,670.5 L61.3,667.1 L62.1,663.7 L62.9,660.3 L63.8,656.9 L64.6,653.5 L65.5,650.1 L66.3,646.7 L67.2,643.3 L68.1,639.8 L69.0,636.4 L69.9,633.0 L70.8,629.6 L71.7,626.2 L72.7,622.8 L73.6,619.4 L74.6,616.1 L75.5,612.7 L76.5,609.4 L77.5,606.1 L78.5,602.8 L79.5,599.6 L80.5,596.4 L81.5,593.2 L82.6,590.1 L83.6,587.0 L84.7,583.9 L85.7,580.9 L86.8,577.9 L87.9,575.0 L89.0,572.1 L90.1,569.3 L91.2,566.6 L92.3,563.9 L93.4,561.3 L94.6,558.7 L95.7,556.2 L96.9,553.8 L98.1,551.4 L99.3,549.1 L100.4,546.8 L101.6,544.6 L102.9,542.5 L104.1,540.4 L105.3,538.4 L106.6,536.4 L107.8,534.5 L109.1,532.7 L110.3,530.9 L111.6,529.2 L112.9,527.6 L114.2,526.0 L115.5,524.4 L116.8,523.0 L118.2,521.6 L119.5,520.2 L120.9,518.9 L122.2,517.7 L123.6,516.5 L125.0,515.4 L126.4,514.3 L127.8,513.3 L129.2,512.3 L130.6,511.4 L132.0,510.6 L133.5,509.8 L134.9,509.1 L136.4,508.5 L137.8,507.9 L139.3,507.5 L140.8,507.1 L142.3,506.8 L143.8,506.5 L145.3,506.4 L146.9,506.4 L148.4,506.4 L150.0,506.5 L151.5,506.7 L153.1,507.0 L154.7,507.4 L156.2,507.8 L157.8,508.3 L159.5,508.9 L161.1,509.5 L162.7,510.3 L164.3,511.0 L166.0,511.9 L167.6,512.8 L169.3,513.7 L171.0,514.7 L172.7,515.8 L174.4,516.9 L176.1,518.0 L177.8,519.2 L179.5,520.4 L181.3,521.6 L183.0,522.9 L184.8,524.2 L186.5,525.6 L188.3,527.0 L190.1,528.4 L191.9,529.8 L193.7,531.3 L195.5,532.9 L197.3,534.4 L199.2,536.0 L201.0,537.7 L202.9,539.3 L204.7,541.0 L206.6,542.8 L208.5,544.5 L210.4,546.3 L212.3,548.2 L214.2,550.0 L216.1,551.9 L218.1,553.8 L220.0,555.7 L222.0,557.7 L223.9,559.6 L225.9,561.6 L227.9,563.6 L229.9,565.6 L231.9,567.6 L233.9,569.6 L235.9,571.7 L238.0,573.7 L240.0,575.7 L242.1,577.8 L244.1,579.8 L246.2,581.8 L248.3,583.8 L250.4,585.8 L252.5,587.8 L254.6,589.8 L256.7,591.8 L258.9,593.7 L261.0,595.7 L263.2,597.6 L265.3,599.5 L267.5,601.5 L269.7,603.4 L271.9,605.3 L274.1,607.2 L276.3,609.1 L278.5,611.0 L280.7,612.9 L283.0,614.8 L285.2,616.7 L287.5,618.6 L289.8,620.5 L292.1,622.4 L294.4,624.3 L296.7,626.2 L299.0,628.1 L301.3,630.0 L303.6,631.9 L306.0,633.8 L308.3,635.7 L310.7,637.6 L313.0,639.5 L315.4,641.4 L317.8,643.3 L320.2,645.1 L322.6,647.0 L325.1,648.8 L327.5,650.6 L329.9,652.4 L332.4,654.2 L334.8,655.9 L337.3,657.6 L339.8,659.3 L342.3,661.0 L344.8,662.6 L347.3,664.2 L349.8,665.7 L352.3,667.2 L354.9,668.7 L357.4,670.1 L360.0,671.5 L362.6,672.8 L365.1,674.1 L367.7,675.3 L370.3,676.5 L372.9,677.6 L375.6,678.7 L378.2,679.8 L380.8,680.8 L383.5,681.8 L386.1,682.7 L388.8,683.6 L391.5,684.4 L394.2,685.3 L396.9,686.1 L399.6,686.8 L402.3,687.6 L405.0,688.3 L407.8,689.0 L410.5,689.7 L413.3,690.3 L416.0,690.9 L418.8,691.6 L421.6,692.2 L424.4,692.7 L427.2,693.3 L430.0,693.9 L432.8,694.4 L435.7,695.0 L438.5,695.5 L441.4,696.0 L444.3,696.5 L447.1,697.0 L450.0,697.4 L452.9,697.9 L455.8,698.3 L458.7,698.8 L461.7,699.2 L464.6,699.5 L467.5,699.9 L470.5,700.3 L473.5,700.6 L476.4,700.9 L479.4,701.2 L482.4,701.5 L485.4,701.8 L488.4,702.0 L491.5,702.3 L494.5,702.5 L497.6,702.7 L500.6,702.9 L503.7,703.0 L506.8,703.2 L509.8,703.3 L512.9,703.5 L516.0,703.6 L519.2,703.7 L522.3,703.8 L525.4,703.9 L528.6,704.0 L531.7,704.0 L534.9,704.1 L538.0,704.2 L541.2,704.2 L544.4,704.3 L547.6,704.3 L550.8,704.4 L554.1,704.4 L557.3,704.5 L560.5,704.5 L563.8,704.6"/>
<path class="d" d="M52.3,705.7 L53.0,702.1 L53.7,698.5 L54.4,694.8 L55.1,691.1 L55.9,687.3 L56.6,683.5 L57.4,679.7 L58.1,675.8 L58.9,671.9 L59.7,667.9 L60.5,664.0 L61.3,660.0 L62.1,655.9 L62.9,651.9 L63.8,647.9 L64.6,643.8 L65.5,639.7 L66.3,635.7 L67.2,631.6 L68.1,627.5 L69.0,623.5 L69.9,619.4 L70.8,615.4 L71.7,611.3 L72.7,607.3 L73.6,603.3 L74.6,599.3 L75.5,595.4 L76.5,591.4 L77.5,587.6 L78.5,583.7 L79.5,579.8 L80.5,576.1 L81.5,572.3 L82.6,568.6 L83.6,564.9 L84.7,561.3 L85.7,557.7 L86.8,554.2 L87.9,550.7 L89.0,547.3 L90.1,543.9 L91.2,540.6 L92.3,537.4 L93.4,534.2 L94.6,531.1 L95.7,528.0 L96.9,525.0 L98.1,522.1 L99.3,519.2 L100.4,516.4 L101.6,513.7 L102.9,511.0 L104.1,508.4 L105.3,505.8 L106.6,503.4 L107.8,501.0 L109.1,498.6 L110.3,496.3 L111.6,494.1 L112.9,492.0 L114.2,489.9 L115.5,487.9 L116.8,485.9 L118.2,484.0 L119.5,482.2 L120.9,480.5 L122.2,478.8 L123.6,477.1 L125.0,475.6 L126.4,474.1 L127.8,472.6 L129.2,471.3 L130.6,470.0 L132.0,468.8 L133.5,467.6 L134.9,466.6 L136.4,465.6 L137.8,464.7 L139.3,464.0 L140.8,463.3 L142.3,462.7 L143.8,462.2 L145.3,461.8 L146.9,461.6 L148.4,461.4 L150.0,461.4 L151.5,461.4 L153.1,461.6 L154.7,461.8 L156.2,462.1 L157.8,462.6 L159.5,463.1 L161.1,463.7 L162.7,464.4 L164.3,465.2 L166.0,466.0 L167.6,466.9 L169.3,467.9 L171.0,468.9 L172.7,470.0 L174.4,471.2 L176.1,472.4 L177.8,473.7 L179.5,475.0 L181.3,476.3 L183.0,477.7 L184.8,479.2 L186.5,480.7 L188.3,482.2 L190.1,483.8 L191.9,485.5 L193.7,487.2 L195.5,488.9 L197.3,490.7 L199.2,492.5 L201.0,494.4 L202.9,496.3 L204.7,498.3 L206.6,500.3 L208.5,502.4 L210.4,504.5 L212.3,506.7 L214.2,508.9 L216.1,511.1 L218.1,513.4 L220.0,515.7 L222.0,518.0 L223.9,520.4 L225.9,522.7 L227.9,525.2 L229.9,527.6 L231.9,530.0 L233.9,532.5 L235.9,535.0 L238.0,537.5 L240.0,540.0 L242.1,542.5 L244.1,545.0 L246.2,547.5 L248.3,550.0 L250.4,552.5 L252.5,554.9 L254.6,557.4 L256.7,559.9 L258.9,562.4 L261.0,564.8 L263.2,567.3 L265.3,569.7 L267.5,572.2 L269.7,574.6 L271.9,577.0 L274.1,579.5 L276.3,581.9 L278.5,584.3 L280.7,586.8 L283.0,589.2 L285.2,591.6 L287.5,594.0 L289.8,596.5 L292.1,598.9 L294.4,601.3 L296.7,603.7 L299.0,606.2 L301.3,608.6 L303.6,611.0 L306.0,613.4 L308.3,615.9 L310.7,618.3 L313.0,620.7 L315.4,623.1 L317.8,625.4 L320.2,627.8 L322.6,630.1 L325.1,632.5 L327.5,634.8 L329.9,637.0 L332.4,639.3 L334.8,641.5 L337.3,643.7 L339.8,645.8 L342.3,647.9 L344.8,650.0 L347.3,652.0 L349.8,654.0 L352.3,655.9 L354.9,657.7 L357.4,659.5 L360.0,661.3 L362.6,662.9 L365.1,664.6 L367.7,666.1 L370.3,667.6 L372.9,669.1 L375.6,670.5 L378.2,671.8 L380.8,673.1 L383.5,674.3 L386.1,675.5 L388.8,676.7 L391.5,677.8 L394.2,678.8 L396.9,679.9 L399.6,680.9 L402.3,681.8 L405.0,682.8 L407.8,683.6 L410.5,684.5 L413.3,685.4 L416.0,686.2 L418.8,687.0 L421.6,687.8 L424.4,688.6 L427.2,689.4 L430.0,690.1 L432.8,690.8 L435.7,691.6 L438.5,692.3 L441.4,692.9 L444.3,693.6 L447.1,694.3 L450.0,694.9 L452.9,695.5 L455.8,696.1 L458.7,696.7 L461.7,697.2 L464.6,697.8 L467.5,698.3 L470.5,698.8 L473.5,699.2 L476.4,699.7 L479.4,700.1 L482.4,700.5 L485.4,700.9 L488.4,701.2 L491.5,701.5 L494.5,701.8 L497.6,702.1 L500.6,702.3 L503.7,702.6 L506.8,702.8 L509.8,703.0 L512.9,703.2 L516.0,703.3 L519.2,703.5 L522.3,703.6 L525.4,703.7 L528.6,703.8 L531.7,704.0 L534.9,704.0 L538.0,704.1 L541.2,704.2 L544.4,704.3 L547.6,704.3 L550.8,704.4 L554.1,704.5 L557.3,704.5 L560.5,704.6 L563.8,704.7"/>
</g>
<rect class="fr" x="52.3" y="399.7" width="511.6" height="306.1"/>
<path class="tk" d="M154.1,399.7v6.8M154.1,705.8v-6.8M257.3,399.7v6.8M257.3,705.8v-6.8M358.6,399.7v6.8M358.6,705.8v-6.8M461.3,399.7v6.8M461.3,705.8v-6.8M52.3,433.5h6.8M563.9,433.5h-6.8M52.3,501.8h6.8M563.9,501.8h-6.8M52.3,570.2h6.8M563.9,570.2h-6.8M52.3,639.2h6.8M563.9,639.2h-6.8"/>
<text class="tl" transform="translate(52.9,722.0) scale(0.92,1)">0</text>
<text class="tl" transform="translate(154.7,722.0) scale(0.92,1)">1</text>
<text class="tl" transform="translate(257.9,722.0) scale(0.92,1)">2</text>
<text class="tl" transform="translate(359.2,722.0) scale(0.92,1)">3</text>
<text class="tl" transform="translate(461.9,722.0) scale(0.92,1)">4</text>
<text class="tl" transform="translate(564.5,722.0) scale(0.92,1)">5</text>
<text class="tl" transform="translate(51.6,440.3) scale(0.92,1)" text-anchor="end">0.8</text>
<text class="tl" transform="translate(51.6,508.6) scale(0.92,1)" text-anchor="end">0.6</text>
<text class="tl" transform="translate(51.6,577.0) scale(0.92,1)" text-anchor="end">0.4</text>
<text class="tl" transform="translate(51.6,646.0) scale(0.92,1)" text-anchor="end">0.2</text>
<text class="tl" transform="translate(51.0,712.8) scale(0.92,1)" text-anchor="end">0</text>
<path class="ar" d="M200.8,640.5L293.9,509.4M283.5,514.4L293.9,509.4L292.6,520.8"/>
<rect class="fr" x="514" y="399.7" width="49.9" height="35.8" style="fill:#fff"/>
<text class="pn" x="538.8" y="426.3" text-anchor="middle">b</text>
<rect class="fr" x="305.2" y="532.3" width="156.3" height="42.0" style="fill:#fff"/>
<path d="M310.7,543.1H356.8" stroke="#000" stroke-width="2" fill="none"/>
<path d="M310.7,560.2H327M333.8,560.2H351M356.6,560.2h1" stroke="#000" stroke-width="2" fill="none"/>
<text class="lg" x="364.2" y="547.8">Cosine Solution</text>
<text class="lg" x="364.2" y="564.2">Sine Solution</text>
<g><text class="gi" x="293.4 308.6" y="504.1">Gr</text><text class="gr" transform="translate(332.3,504.1) scale(1.3,1)">=</text><text class="gr" transform="scale(1.08,1)" x="332.59 346.30 353.06 364.81 371.39 384.81 390.28 403.61 412.22 425.83 431.76 445.28 451.76 466.48 472.78" y="504.1">2<tspan class="dt">.</tspan>5,4<tspan class="dt">.</tspan>5,6<tspan class="dt">.</tspan>5,8<tspan class="dt">.</tspan>5</text></g>
<text class="ax" transform="translate(2.2,559.3) scale(1.15,1)">g</text>
<text class="ax" x="304.3" y="743.5">z</text>
</g>
</svg></body></html>
